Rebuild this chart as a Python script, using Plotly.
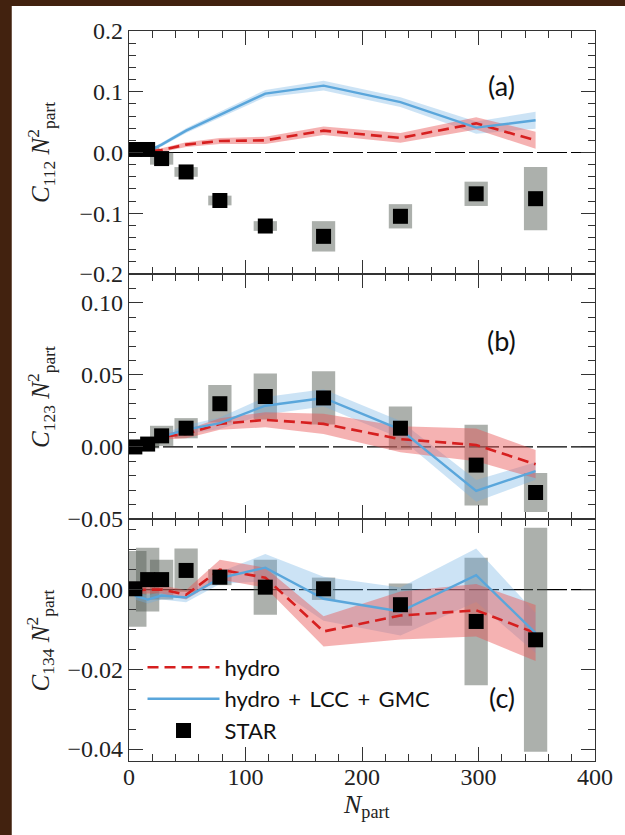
import plotly.graph_objects as go
from plotly.subplots import make_subplots

# ---------------- data ----------------
N_part = [5, 16, 28, 49, 78, 117, 167, 233, 298, 349]

# panel (a): C112 Npart^2
star_a = [0.005, 0.005, -0.010, -0.032, -0.079, -0.121, -0.138, -0.105, -0.068, -0.076]
sys_a = [0.004, 0.005, 0.010, 0.008, 0.008, 0.008, 0.025, 0.020, 0.020, 0.052]
hydro_a = [0.000, 0.001, 0.004, 0.013, 0.019, 0.020, 0.036, 0.024, 0.048, 0.020]
hydro_a_err = [0.002, 0.002, 0.003, 0.004, 0.005, 0.006, 0.007, 0.008, 0.010, 0.014]
lcc_a = [0.000, 0.002, 0.013, 0.036, 0.062, 0.097, 0.110, 0.083, 0.041, 0.053]
lcc_a_err = [0.002, 0.002, 0.003, 0.004, 0.005, 0.006, 0.008, 0.008, 0.010, 0.014]

# panel (b): C123 Npart^2
star_b = [0.000, 0.002, 0.0077, 0.013, 0.030, 0.035, 0.034, 0.013, -0.0126, -0.0316]
sys_b = [0.002, 0.003, 0.007, 0.007, 0.013, 0.016, 0.0185, 0.015, 0.028, 0.0136]
hydro_b = [0.000, 0.002, 0.007, 0.009, 0.016, 0.0188, 0.016, 0.0054, 0.0014, -0.012]
hydro_b_err = [0.001, 0.001, 0.002, 0.003, 0.004, 0.0052, 0.007, 0.009, 0.0114, 0.0098]
lcc_b = [0.000, 0.002, 0.007, 0.012, 0.0165, 0.0286, 0.034, 0.012, -0.0305, -0.0167]
lcc_b_err = [0.001, 0.001, 0.002, 0.003, 0.004, 0.006, 0.006, 0.006, 0.0075, 0.006]

# panel (c): C134 Npart^2
star_c = [0.0002, 0.0025, 0.0025, 0.0048, 0.0031, 0.0006, 0.0002, -0.0038, -0.0080, -0.0126]
sys_c = [0.0095, 0.008, 0.005, 0.0055, 0.002, 0.0069, 0.0028, 0.0053, 0.016, 0.0281]
hydro_c = [-0.0002, 0.0000, 0.0000, -0.0013, 0.0050, 0.0030, -0.0105, -0.0065, -0.0052, -0.0109]
hydro_c_err = [0.001, 0.001, 0.001, 0.0012, 0.0025, 0.0025, 0.0038, 0.006, 0.0066, 0.007]
lcc_c = [-0.0015, -0.0025, -0.0015, -0.0020, 0.0029, 0.0055, -0.0023, -0.0055, 0.0036, -0.0109]
lcc_c_err = [0.001, 0.001, 0.001, 0.0012, 0.0015, 0.0034, 0.0055, 0.006, 0.0067, 0.005]

panel_labels = ["(a)", "(b)", "(c)"]
series_names = ["hydro", "hydro\u2009 + \u2009LCC\u2009 + \u2009GMC", "STAR"]
x_ticks = [0, 100, 200, 300, 400]

# ---------------- styles ----------------
RED = "#d61f1f"
RED_BAND = "rgba(232,85,85,0.45)"
BLUE = "#5aa6db"
BLUE_BAND = "rgba(110,175,225,0.35)"
BOX = "rgba(82,90,82,0.48)"
AX = "#333333"
SERIF = "Liberation Serif"
SANS = "Lato"
BOX_W = 20

panels = [
    (star_a, sys_a, hydro_a, hydro_a_err, lcc_a, lcc_a_err),
    (star_b, sys_b, hydro_b, hydro_b_err, lcc_b, lcc_b_err),
    (star_c, sys_c, hydro_c, hydro_c_err, lcc_c, lcc_c_err),
]

fig = make_subplots(rows=3, cols=1, shared_xaxes=True, vertical_spacing=0)

for r, (star, sysv, hyd, hyd_e, lcc, lcc_e) in enumerate(panels, start=1):
    last = (r == 3)
    fig.add_trace(go.Bar(
        x=N_part, y=[2 * e for e in sysv], base=[v - e for v, e in zip(star, sysv)],
        width=BOX_W, marker=dict(color=BOX, line=dict(width=0)),
        showlegend=False, hoverinfo="skip"), row=r, col=1)
    for vals, errs, col in ((lcc, lcc_e, BLUE_BAND), (hyd, hyd_e, RED_BAND)):
        up = [v + e for v, e in zip(vals, errs)]
        lo = [v - e for v, e in zip(vals, errs)]
        fig.add_trace(go.Scatter(
            x=N_part + N_part[::-1], y=up + lo[::-1], mode="lines",
            fill="toself", fillcolor=col, line=dict(width=0),
            showlegend=False, hoverinfo="skip"), row=r, col=1)
    fig.add_trace(go.Scatter(
        x=N_part, y=hyd, mode="lines", name=series_names[0],
        line=dict(color=RED, width=2.6, dash="11px,6px"),
        showlegend=last), row=r, col=1)
    fig.add_trace(go.Scatter(
        x=N_part, y=lcc, mode="lines", name=series_names[1],
        line=dict(color=BLUE, width=2.4),
        showlegend=last), row=r, col=1)
    fig.add_trace(go.Scatter(
        x=N_part, y=star, mode="markers", name=series_names[2],
        marker=dict(symbol="square", size=15, color="black", line=dict(width=0)),
        showlegend=last), row=r, col=1)

# ---------------- axes ----------------
domains = [(0.6671, 1.0), (0.3315, 0.6671), (0.0, 0.3315)]
yranges = [(-0.2, 0.2), (-0.05, 0.12), (-0.043, 0.0177)]
ydticks = [0.1, 0.05, 0.02]
yminor = [0.02, 0.01, 0.005]
yfmt = [".1f", ".2f", ".2f"]

for r in range(1, 4):
    fig.update_xaxes(
        range=[0, 400], tickvals=x_ticks, ticks="inside", ticklen=14, tickwidth=1.3,
        tickcolor=AX, showline=True, linecolor=AX, linewidth=1.4, mirror="ticks",
        showgrid=False, zeroline=False, showticklabels=(r == 3),
        ticklabelstandoff=-6,
        tickfont=dict(family=SERIF, size=24, color="#222"),
        minor=dict(dtick=20, tick0=0, ticks="inside", ticklen=7, tickwidth=1.2,
                   tickcolor=AX, showgrid=False),
        row=r, col=1)
    fig.update_yaxes(
        range=list(yranges[r - 1]), dtick=ydticks[r - 1], tick0=0,
        tickformat=yfmt[r - 1], domain=list(domains[r - 1]),
        ticks="inside", ticklen=14, tickwidth=1.3, tickcolor=AX,
        showline=True, linecolor=AX, linewidth=1.4, mirror="ticks",
        showgrid=False, zeroline=False,
        tickfont=dict(family=SERIF, size=24, color="#222"),
        minor=dict(dtick=yminor[r - 1], tick0=0, ticks="inside", ticklen=7,
                   tickwidth=1.2, tickcolor=AX, showgrid=False),
        row=r, col=1)

# ---------------- shapes ----------------
shapes = [dict(type="rect", xref="paper", yref="paper", x0=-0.2516, x1=1.2,
               y0=-0.3, y1=1.0342, fillcolor="white", line=dict(width=0), layer="below")]
for r in range(1, 4):
    xs = "x" if r == 1 else f"x{r}"
    ys = "y" if r == 1 else f"y{r}"
    shapes.append(dict(type="line", xref=f"{xs} domain", yref=ys, x0=0, x1=1, y0=0, y1=0,
                       line=dict(color="black", width=1.2, dash="30px,4px"), layer="below"))

# ---------------- annotations ----------------
annotations = []
lab_y = [0.775, 0.73, 0.262]
for r in range(1, 4):
    xs = "x" if r == 1 else f"x{r}"
    ys = "y" if r == 1 else f"y{r}"
    annotations.append(dict(text=panel_labels[r - 1], xref=f"{xs} domain", yref=f"{ys} domain",
                            x=0.80, y=lab_y[r - 1], xanchor="center", yanchor="middle",
                            showarrow=False, font=dict(family=SANS, size=27, color="#111")))
ytitles = ["<i>C</i><sub>112</sub> <i>N</i><sup>2</sup><sub>part</sub>",
           "<i>C</i><sub>123</sub> <i>N</i><sup>2</sup><sub>part</sub>",
           "<i>C</i><sub>134</sub> <i>N</i><sup>2</sup><sub>part</sub>"]
for r in range(1, 4):
    ys = "y" if r == 1 else f"y{r}"
    annotations.append(dict(text=ytitles[r - 1], xref="paper", yref=f"{ys} domain",
                            x=-0.19, y=0.5, textangle=-90, xanchor="center", yanchor="middle",
                            showarrow=False, font=dict(family=SERIF, size=25, color="#222")))
annotations.append(dict(text="<i>N</i><sub>part</sub>", xref="paper", yref="paper",
                        x=0.51, y=-0.061, xanchor="center", yanchor="middle", showarrow=False,
                        font=dict(family=SERIF, size=26, color="#222")))

fig.update_layout(
    width=625, height=835,
    margin=dict(l=129, r=19, t=31, b=74),
    paper_bgcolor="#42220f", plot_bgcolor="rgba(0,0,0,0)",
    barmode="overlay", shapes=shapes, annotations=annotations,
    legend=dict(x=0.029, y=0.157, xanchor="left", yanchor="top",
                bgcolor="rgba(0,0,0,0)", font=dict(family=SANS, size=22, color="#111"),
                itemwidth=72),
)

fig.write_html("out.html", config={"displayModeBar": False},
               post_script="document.body.style.margin='0px';document.body.style.padding='0px';")
